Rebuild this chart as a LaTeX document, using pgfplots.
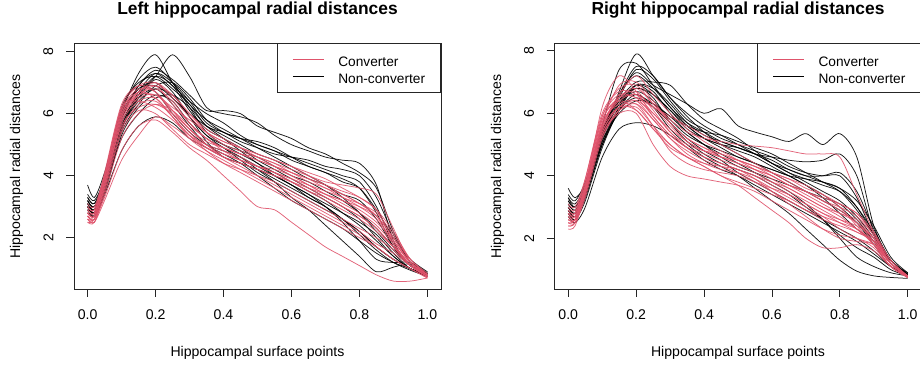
\documentclass[border=0pt]{standalone}
\usepackage{pgfplots}
\usepackage{pgfplotstable}
\pgfplotsset{compat=1.18}
\usepackage{fontspec}
\setmainfont{Liberation Sans}
\definecolor{conv}{HTML}{DF536B}
\definecolor{frm}{HTML}{262626}

% Left panel, non-converters (one row per subject)
\pgfplotstableread{
c v0 v1 v2 v3 v4 v5 v6 v7 v8 v9 v10 v11 v12 v13 v14 v15 v16 v17 v18 v19 v20 v21
x 0 0.02 0.05 0.1 0.15 0.2 0.25 0.3 0.35 0.4 0.45 0.5 0.55 0.6 0.65 0.7 0.75 0.8 0.85 0.9 0.95 1
b1 3.2 3.0 3.9 6.0 7.3 7.9 7.0 6.3 5.8 5.5 5.2 4.9 4.6 4.3 4.0 3.7 3.3 2.8 2.2 1.6 1.1 0.8
b2 3.1 2.9 3.6 5.5 6.6 7.2 7.9 7.2 6.2 6.0 5.9 5.7 5.3 5.0 4.8 4.6 4.5 4.4 3.7 1.9 1.1 0.85
b3 3.0 2.8 3.7 5.8 6.9 7.4 7.1 6.6 6.1 6.1 6.0 5.6 5.4 5.2 4.9 4.7 4.4 4.1 3.6 2.2 1.2 0.8
b4 3.3 3.1 4.0 6.2 7.0 7.2 6.8 6.3 5.6 5.4 5.1 4.9 4.7 4.6 4.5 4.3 4.2 4.0 3.3 2.1 1.2 0.85
b5 3.7 3.3 4.1 6.0 6.8 6.9 6.5 5.9 5.3 5.0 4.8 4.6 4.3 4.0 3.8 3.5 3.2 2.8 2.3 1.7 1.1 0.8
b6 2.9 2.7 3.5 5.4 6.3 6.9 7.0 6.5 5.8 5.4 5.2 5.1 4.9 4.6 4.3 4.1 3.8 3.6 2.9 2.0 1.3 0.9
b7 3.1 2.9 3.9 6.2 6.9 6.7 6.0 5.4 5.0 4.8 4.6 4.3 4.0 3.7 3.3 3.0 2.6 2.1 1.6 1.2 0.95 0.75
b8 3.0 2.8 3.5 5.5 6.5 7.1 6.7 5.9 5.3 4.9 4.6 4.2 3.8 3.3 2.9 2.4 1.9 1.4 0.9 1.05 1.15 0.85
b9 3.2 3.0 3.8 5.7 6.6 7.2 6.9 6.1 5.5 5.2 4.9 4.5 4.2 3.9 3.6 3.3 3.0 2.6 2.0 1.4 1.0 0.8
b10 3.0 2.8 3.6 5.2 6.0 6.5 6.6 6.2 5.6 5.2 4.8 4.4 4.1 3.8 3.5 3.2 2.8 2.4 1.9 1.4 1.0 0.75
b11 3.0 2.8 3.4 4.8 5.6 5.9 5.7 5.2 4.9 4.6 4.4 4.2 3.9 3.6 3.3 3.0 2.6 2.2 1.7 1.3 1.0 0.75
b12 3.3 3.1 3.8 5.6 6.7 7.3 7.0 6.4 5.7 5.4 5.2 5.0 4.8 4.5 4.3 4.1 3.9 3.6 2.8 1.7 1.1 0.8
b13 2.9 2.7 3.5 5.5 6.4 6.8 6.6 5.9 5.1 4.6 4.4 4.2 4.0 3.7 3.4 3.0 2.5 1.9 1.3 1.2 1.2 0.85
b14 3.1 2.9 3.7 5.9 6.8 7.0 6.5 6.0 5.6 5.3 5.0 4.7 4.5 4.2 3.9 3.7 3.4 3.2 2.6 1.7 1.1 0.8
b15 3.2 3.0 3.9 6.1 7.1 7.5 7.0 6.2 5.4 5.0 4.7 4.4 4.0 3.7 3.4 3.1 2.8 2.5 2.1 1.5 1.0 0.8
b16 3.0 2.8 3.6 5.6 6.5 6.8 6.3 5.6 5.0 4.7 4.4 4.0 3.6 3.2 2.9 2.6 2.3 1.9 1.5 1.2 1.0 0.8
b17 3.4 3.2 3.9 5.8 6.9 7.3 6.9 6.4 6.0 5.7 5.3 5.0 4.8 4.6 4.4 4.2 4.0 3.8 3.0 1.8 1.1 0.8
b18 2.8 2.7 3.4 5.3 6.2 6.6 6.4 5.7 5.2 4.9 4.5 4.1 3.8 3.5 3.2 2.9 2.6 2.2 1.7 1.3 1.0 0.8
}\LBraw
\pgfplotstabletranspose[colnames from=c]{\LB}{\LBraw}

% Left panel, converters
\pgfplotstableread{
c v0 v1 v2 v3 v4 v5 v6 v7 v8 v9 v10 v11 v12 v13 v14 v15 v16 v17 v18 v19 v20 v21
x 0 0.02 0.05 0.1 0.15 0.2 0.25 0.3 0.35 0.4 0.45 0.5 0.55 0.6 0.65 0.7 0.75 0.8 0.85 0.9 0.95 1
r1 2.7 2.7 4.0 6.2 6.4 6.2 5.8 5.3 5.0 4.8 4.6 4.3 4.1 3.8 3.5 3.2 2.9 2.6 2.2 1.7 1.2 0.8
r2 2.6 2.6 3.3 4.8 5.6 5.8 5.4 4.9 4.5 4.0 3.5 3.0 2.9 2.5 2.1 1.7 1.4 1.1 0.8 0.6 0.6 0.7
r3 2.8 2.7 3.9 6.1 6.8 6.7 6.1 5.5 5.1 4.9 4.7 4.5 4.3 4.1 3.9 3.7 3.5 3.3 2.9 1.9 1.2 0.8
r4 2.9 2.8 3.9 5.9 6.6 6.9 6.6 6.0 5.4 5.0 4.8 4.6 4.4 4.1 3.9 3.6 3.4 3.1 2.7 1.8 1.1 0.75
r5 2.5 2.6 3.6 5.7 6.4 6.5 5.9 5.2 4.8 4.5 4.2 3.9 3.6 3.3 3.0 2.7 2.4 2.1 1.7 1.3 1.0 0.7
r6 3.0 2.9 4.1 6.3 6.9 6.7 6.0 5.4 4.9 4.7 4.5 4.3 4.1 3.9 3.7 3.5 3.3 3.0 2.6 1.9 1.2 0.8
r7 2.6 2.5 3.2 4.5 5.3 5.9 5.6 5.2 4.9 4.6 4.4 4.2 4.0 3.8 3.5 3.3 3.0 2.7 2.3 1.7 1.1 0.75
r8 2.8 2.7 3.8 6.0 6.7 6.9 6.3 5.7 5.2 4.9 4.7 4.5 4.3 4.1 3.8 3.6 3.3 3.1 2.8 2.1 1.3 0.8
r9 2.7 2.6 3.7 5.8 6.5 6.6 6.1 5.5 5.0 4.6 4.3 4.0 3.7 3.4 3.1 2.8 2.5 2.2 1.8 1.5 1.1 0.8
r10 3.1 3.0 4.0 6.1 6.7 6.5 5.9 5.3 4.9 4.6 4.4 4.2 4.0 3.8 3.6 3.4 3.2 3.0 2.7 2.0 1.3 0.85
r11 2.7 2.6 3.7 5.8 6.6 6.8 6.4 5.7 5.2 4.9 4.7 4.6 4.4 4.2 4.0 3.8 3.7 3.6 3.4 2.3 1.2 0.75
r12 2.9 2.8 3.8 5.6 6.2 6.3 6.0 5.5 5.0 4.7 4.5 4.3 4.1 3.9 3.6 3.3 3.0 2.7 2.3 1.7 1.1 0.75
r13 2.6 2.5 3.4 5.2 6.0 6.3 6.1 5.6 5.2 4.8 4.5 4.3 4.2 4.0 3.7 3.4 3.2 2.9 2.5 1.9 1.2 0.8
r14 2.8 2.8 4.0 6.2 6.9 7.0 6.5 5.9 5.4 5.1 4.9 4.7 4.5 4.3 4.0 3.7 3.4 3.1 2.7 2.0 1.2 0.8
r15 2.7 2.6 3.6 5.5 6.3 6.4 5.9 5.3 4.8 4.4 4.1 3.8 3.5 3.2 2.9 2.6 2.3 2.0 1.7 1.3 1.0 0.7
r16 3.0 2.9 4.0 6.0 6.6 6.6 6.2 5.8 5.4 5.1 4.9 4.7 4.5 4.3 4.1 3.9 3.6 3.3 2.9 2.2 1.3 0.8
r17 2.5 2.5 3.5 5.4 6.1 6.0 5.5 5.0 4.7 4.4 4.2 4.0 3.8 3.5 3.2 2.9 2.6 2.3 2.0 1.6 1.1 0.75
r18 2.8 2.7 3.8 5.9 6.7 7.0 6.6 6.0 5.5 5.2 4.9 4.6 4.3 4.0 3.7 3.4 3.1 2.8 2.4 1.8 1.1 0.75
}\LRraw
\pgfplotstabletranspose[colnames from=c]{\LR}{\LRraw}

% Right panel, non-converters
\pgfplotstableread{
c v0 v1 v2 v3 v4 v5 v6 v7 v8 v9 v10 v11 v12 v13 v14 v15 v16 v17 v18 v19 v20 v21
x 0 0.02 0.05 0.1 0.15 0.2 0.25 0.3 0.35 0.4 0.45 0.5 0.55 0.6 0.65 0.7 0.75 0.8 0.85 0.9 0.95 1
b1 3.0 2.8 3.4 5.2 6.7 7.9 7.2 6.5 6.0 5.6 5.3 5.0 4.7 4.4 4.1 3.8 3.5 3.2 2.7 2.0 1.2 0.8
b2 3.3 3.0 3.6 5.4 6.6 7.3 6.9 6.6 6.3 6.0 6.15 5.6 5.4 5.25 5.1 5.35 5.0 5.35 4.6 2.4 1.3 0.9
b3 2.9 2.7 3.5 5.6 7.4 7.6 6.9 6.2 5.7 5.4 5.1 4.9 4.7 4.6 4.5 4.45 4.5 4.7 4.0 2.2 1.2 0.85
b4 3.6 3.3 3.7 5.0 6.1 6.9 6.8 6.3 5.7 5.3 5.1 4.9 4.7 4.5 4.2 4.0 4.0 4.1 3.5 2.3 1.3 0.85
b5 3.1 2.9 3.5 5.2 6.4 7.0 7.0 6.9 6.3 5.8 5.5 5.2 4.8 4.4 4.1 3.9 3.7 3.5 3.0 2.2 1.3 0.85
b6 2.8 2.6 3.2 4.9 6.1 6.6 6.2 5.5 5.0 4.6 4.3 4.0 3.6 3.2 2.8 2.3 1.8 1.3 0.95 0.8 0.75 0.72
b7 3.2 3.0 3.6 5.3 6.3 6.7 6.4 5.8 5.3 5.0 4.8 4.6 4.4 4.1 3.8 3.5 3.2 2.9 2.5 1.9 1.2 0.8
b8 2.9 2.7 3.3 5.0 6.2 6.9 6.7 6.0 5.4 5.0 4.7 4.4 4.1 3.8 3.5 3.1 2.6 2.0 1.4 1.1 0.9 0.8
b9 3.0 2.8 3.5 5.4 6.5 7.4 7.1 6.4 5.8 5.5 5.2 5.0 4.8 4.6 4.3 4.1 4.0 4.0 3.3 2.1 1.3 0.85
b10 2.7 2.5 3.0 4.6 5.5 5.7 5.6 5.3 4.9 4.5 4.2 4.0 3.7 3.4 3.1 2.8 2.5 2.2 1.9 1.5 1.1 0.8
b11 3.1 2.9 3.5 5.3 6.6 7.2 6.8 6.2 5.6 5.2 4.9 4.6 4.4 4.2 4.0 3.7 3.4 3.0 2.5 1.8 1.1 0.8
b12 3.3 3.1 3.7 5.5 6.4 6.6 6.3 5.9 5.6 5.4 5.3 5.1 4.9 4.7 4.4 4.1 3.8 3.5 2.9 2.1 1.3 0.85
b13 2.9 2.7 3.4 5.1 6.2 6.8 6.5 5.7 5.1 4.7 4.4 4.2 4.0 3.7 3.4 3.0 2.6 2.1 1.7 1.4 1.0 0.8
b14 3.0 2.8 3.5 5.2 6.3 6.9 6.6 6.1 5.6 5.2 5.0 4.8 4.6 4.3 4.0 3.7 3.3 2.8 2.3 1.9 1.3 0.85
b15 3.4 3.2 3.8 5.4 6.4 6.8 6.6 6.1 5.5 5.2 5.0 4.9 4.7 4.4 4.2 4.0 3.8 3.6 3.2 2.4 1.4 0.9
b16 2.8 2.6 3.3 5.0 6.1 6.5 6.2 5.7 5.2 4.8 4.5 4.1 3.8 3.5 3.2 2.9 2.6 2.3 2.0 1.6 1.1 0.8
b17 3.2 3.0 3.6 5.4 6.6 7.5 7.2 6.5 5.9 5.4 5.0 4.7 4.4 4.2 4.0 3.9 3.8 3.6 3.0 2.1 1.2 0.85
b18 3.0 2.8 3.4 5.1 6.0 6.4 6.3 5.9 5.4 5.0 4.6 4.3 4.1 3.9 3.7 3.5 3.3 3.1 2.6 1.9 1.2 0.8
}\RBraw
\pgfplotstabletranspose[colnames from=c]{\RB}{\RBraw}

% Right panel, converters
\pgfplotstableread{
c v0 v1 v2 v3 v4 v5 v6 v7 v8 v9 v10 v11 v12 v13 v14 v15 v16 v17 v18 v19 v20 v21
x 0 0.02 0.05 0.1 0.15 0.2 0.25 0.3 0.35 0.4 0.45 0.5 0.55 0.6 0.65 0.7 0.75 0.8 0.85 0.9 0.95 1
r1 2.5 2.6 3.6 6.2 7.2 6.7 5.9 5.3 4.9 4.7 4.5 4.3 4.1 3.8 3.5 3.2 2.9 2.6 2.3 1.8 1.2 0.8
r2 2.8 2.7 3.5 5.5 6.5 6.8 6.3 5.8 5.4 5.2 5.1 5.0 4.95 4.9 4.8 4.7 4.7 4.6 3.4 2.2 1.2 0.8
r3 2.3 2.4 3.4 5.3 6.0 6.0 5.0 4.3 4.0 3.9 3.8 3.7 3.5 3.2 2.9 2.6 2.3 2.1 2.0 1.7 1.1 0.75
r4 2.6 2.6 3.6 5.7 6.3 6.4 5.8 5.2 4.8 4.5 4.3 4.1 3.8 3.5 3.2 2.9 2.6 2.4 2.2 1.9 1.2 0.75
r5 2.9 2.8 3.7 5.6 6.6 7.2 6.6 6.0 5.5 5.1 4.8 4.5 4.2 3.9 3.6 3.3 3.0 2.7 2.3 1.8 1.1 0.75
r6 2.4 2.5 3.5 5.5 6.2 6.1 5.5 4.9 4.6 4.3 4.0 3.7 3.3 2.9 2.5 2.0 1.7 1.7 1.8 1.6 1.1 0.75
r7 2.7 2.7 3.7 5.8 6.5 6.5 5.9 5.3 4.9 4.6 4.4 4.2 4.0 3.8 3.6 3.3 3.0 2.8 2.5 2.0 1.2 0.8
r8 3.0 2.9 3.8 5.9 6.8 6.9 6.3 5.7 5.2 4.9 4.6 4.4 4.2 4.0 3.7 3.5 3.2 3.0 2.7 2.1 1.3 0.8
r9 2.5 2.5 3.3 5.2 6.1 6.3 5.8 5.2 4.7 4.4 4.2 4.1 3.9 3.6 3.3 3.0 2.7 2.3 2.0 1.8 1.2 0.75
r10 2.8 2.8 3.9 6.0 6.7 6.6 6.0 5.5 5.1 4.8 4.6 4.4 4.2 4.0 3.7 3.5 3.2 2.9 2.5 1.9 1.2 0.8
r11 2.6 2.6 3.5 5.4 6.2 6.3 5.6 4.8 4.4 4.2 4.1 4.0 3.8 3.6 3.4 3.1 2.8 2.5 2.2 1.9 1.2 0.75
r12 2.9 2.8 3.6 5.6 6.4 6.6 6.2 5.6 5.1 4.8 4.6 4.5 4.3 4.1 3.9 3.6 3.4 3.1 2.8 2.1 1.2 0.8
r13 2.4 2.5 3.4 5.3 6.1 6.2 5.6 5.0 4.6 4.4 4.3 4.2 3.9 3.5 3.1 2.7 2.3 2.0 1.9 1.8 1.2 0.75
r14 2.7 2.6 3.5 5.6 6.5 6.7 6.1 5.4 5.0 4.8 4.7 4.5 4.3 4.0 3.7 3.4 3.1 2.8 2.6 2.0 1.2 0.8
r15 3.1 3.0 3.9 5.9 6.6 6.5 6.2 5.9 5.6 5.3 5.0 4.7 4.4 4.1 3.8 3.5 3.3 3.1 2.8 2.2 1.3 0.8
r16 2.5 2.6 3.7 5.8 6.4 6.1 5.5 5.0 4.6 4.3 4.0 3.8 3.6 3.4 3.2 2.9 2.7 2.5 2.3 1.9 1.2 0.75
r17 2.8 2.7 3.6 5.7 6.9 7.0 6.4 5.7 5.2 4.9 4.7 4.5 4.3 4.1 3.9 3.7 3.4 3.0 2.4 1.8 1.1 0.75
r18 2.6 2.6 3.5 5.4 6.2 6.4 6.0 5.4 4.9 4.6 4.4 4.2 4.0 3.7 3.4 3.1 2.8 2.6 2.4 2.0 1.2 0.8
}\RRraw
\pgfplotstabletranspose[colnames from=c]{\RR}{\RRraw}

\newcommand\lab{\fontsize{14.1bp}{17bp}\selectfont}
\newcommand\leg{\fontsize{13.7bp}{16.5bp}\selectfont}

\pgfplotsset{
  hipp/.style={
    scale only axis, height=245.7bp,
    xmin=-0.04, xmax=1.04,
    xtick={0,0.2,0.4,0.6,0.8,1}, xticklabels={0.0,0.2,0.4,0.6,0.8,1.0},
    ytick={2,4,6,8}, yticklabels={2,4,6,8},
    tick pos=left, tick align=outside, major tick length=8bp,
    axis line style={frm, line width=0.8bp},
    every tick/.style={frm, line width=0.8bp},
    ticklabel style={font=\lab, text=black},
    xticklabel style={anchor=north, inner sep=0pt},
    yticklabel style={rotate=90, anchor=south, inner sep=0pt},
    xticklabel shift=12bp, yticklabel shift=12.5bp,
    legend style={at={(1,1)}, anchor=north east, draw=frm, line width=0.8bp,
      fill=white, font=\leg, inner xsep=15.5bp, inner ysep=3bp,
      column sep=14bp, row sep=-9bp,
      nodes={inner sep=0pt, text height=19.7bp, text depth=6bp}},
    legend cell align=left,
    legend image code/.code={\draw[##1] (0bp,0bp) -- (31bp,0bp);},
    bl/.style={black, line width=0.75bp, smooth, opacity=0.9, forget plot},
    rd/.style={conv, line width=0.75bp, smooth, opacity=0.9, forget plot},
  }
}

\begin{document}
\begin{tikzpicture}
\path (0,0) rectangle (920bp,368bp);

\begin{axis}[hipp, at={(74bp,79bp)}, anchor=south west, width=367bp,
  ymin=0.345, ymax=8.27]
  \addlegendimage{conv, line width=0.75bp}
  \addlegendentry{Converter}
  \addlegendimage{black, line width=0.75bp}
  \addlegendentry{Non-converter}
  \pgfplotsinvokeforeach{1,...,18}{\addplot[bl] table[x=x, y=b#1]{\LB};}
  \pgfplotsinvokeforeach{1,...,18}{\addplot[rd] table[x=x, y=r#1]{\LR};}
\end{axis}

\begin{axis}[hipp, at={(554.7bp,79bp)}, anchor=south west, width=366.6bp,
  ymin=0.38, ymax=8.24]
  \addlegendimage{conv, line width=0.75bp}
  \addlegendentry{Converter}
  \addlegendimage{black, line width=0.75bp}
  \addlegendentry{Non-converter}
  \pgfplotsinvokeforeach{1,...,18}{\addplot[bl] table[x=x, y=b#1]{\RB};}
  \pgfplotsinvokeforeach{1,...,18}{\addplot[rd] table[x=x, y=r#1]{\RR};}
\end{axis}

\node[font=\bfseries\fontsize{17.4bp}{20bp}\selectfont, anchor=base] at (257.5bp,353bp) {Left hippocampal radial distances};
\node[font=\bfseries\fontsize{17.4bp}{20bp}\selectfont, anchor=base] at (738bp,353bp) {Right hippocampal radial distances};
\node[font=\lab, anchor=base] at (257.5bp,12bp) {Hippocampal surface points};
\node[font=\lab, anchor=base] at (738bp,12bp) {Hippocampal surface points};
\node[font=\lab, anchor=base, rotate=90] at (20bp,201.3bp) {Hippocampal radial distances};
\node[font=\lab, anchor=base, rotate=90] at (501bp,201.3bp) {Hippocampal radial distances};

\pgfresetboundingbox
\path (0,0) rectangle (920bp,368bp);
\end{tikzpicture}
\end{document}
